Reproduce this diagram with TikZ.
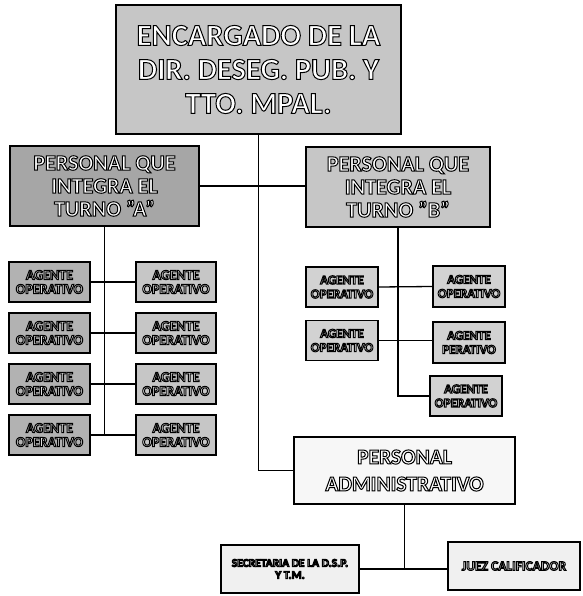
\documentclass[tikz,border=0pt]{standalone}
\usepackage{fontspec}
\setmainfont{Carlito}
\newcommand{\outl}[1]{\special{pdf:literal 0 0 0 RG 1 w 2 Tr}#1\special{pdf:literal 0 Tr}}

\begin{document}
\begin{tikzpicture}[x=1pt,y=-1pt,
  box/.style={draw=black,line width=1.6pt,inner sep=0pt,align=center,text=white},
  link/.style={line width=1.3pt}]
\useasboundingbox (0,0) rectangle (582,596);
\node[box,fill=gray!45,minimum width=285pt,minimum height=129pt,font=\bfseries\fontsize{30.5}{34}\selectfont] (top) at (258.5,69.5)
  {\outl{ENCARGADO DE LA}\\\outl{DIR. DESEG. PUB. Y}\\\outl{TTO. MPAL.}};
\node[box,fill=gray!70,minimum width=189pt,minimum height=80pt,font=\bfseries\fontsize{22}{23}\selectfont] (tA) at (104.5,186)
  {\outl{PERSONAL QUE}\\\outl{INTEGRA EL}\\\outl{TURNO "A"}};
\node[box,fill=gray!45,minimum width=184pt,minimum height=80pt,font=\bfseries\fontsize{22}{23}\selectfont] (tB) at (398,187)
  {\outl{PERSONAL QUE}\\\outl{INTEGRA EL}\\\outl{TURNO "B"}};
% turno A
\node[box,fill=gray!60,minimum width=81pt,minimum height=40pt,font=\bfseries\fontsize{14}{14}\selectfont] (aL1) at (49.5,282) {\outl{AGENTE}\\\outl{OPERATIVO}};
\node[box,fill=gray!60,minimum width=81pt,minimum height=40pt,font=\bfseries\fontsize{14}{14}\selectfont] (aL2) at (49.5,333) {\outl{AGENTE}\\\outl{OPERATIVO}};
\node[box,fill=gray!60,minimum width=81pt,minimum height=40pt,font=\bfseries\fontsize{14}{14}\selectfont] (aL3) at (49.5,384) {\outl{AGENTE}\\\outl{OPERATIVO}};
\node[box,fill=gray!60,minimum width=81pt,minimum height=40pt,font=\bfseries\fontsize{14}{14}\selectfont] (aL4) at (49.5,435) {\outl{AGENTE}\\\outl{OPERATIVO}};
\node[box,fill=gray!45,minimum width=80pt,minimum height=40pt,font=\bfseries\fontsize{14}{14}\selectfont] (aR1) at (176,282) {\outl{AGENTE}\\\outl{OPERATIVO}};
\node[box,fill=gray!45,minimum width=80pt,minimum height=40pt,font=\bfseries\fontsize{14}{14}\selectfont] (aR2) at (176,333) {\outl{AGENTE}\\\outl{OPERATIVO}};
\node[box,fill=gray!45,minimum width=80pt,minimum height=40pt,font=\bfseries\fontsize{14}{14}\selectfont] (aR3) at (176,384) {\outl{AGENTE}\\\outl{OPERATIVO}};
\node[box,fill=gray!45,minimum width=80pt,minimum height=40pt,font=\bfseries\fontsize{14}{14}\selectfont] (aR4) at (176,435) {\outl{AGENTE}\\\outl{OPERATIVO}};
% turno B
\node[box,fill=gray!35,minimum width=72pt,minimum height=40pt,font=\bfseries\fontsize{13}{14}\selectfont] (bL1) at (342,287) {\outl{AGENTE}\\\outl{OPERATIVO}};
\node[box,fill=gray!35,minimum width=72pt,minimum height=40pt,font=\bfseries\fontsize{13}{14}\selectfont] (bL2) at (342,340.5) {\outl{AGENTE}\\\outl{OPERATIVO}};
\node[box,fill=gray!35,minimum width=72pt,minimum height=41pt,font=\bfseries\fontsize{13}{14}\selectfont] (bR1) at (469,286.5) {\outl{AGENTE}\\\outl{OPERATIVO}};
\node[box,fill=gray!35,minimum width=72pt,minimum height=41pt,font=\bfseries\fontsize{13}{14}\selectfont] (bR2) at (469,342.5) {\outl{AGENTE}\\\outl{PERATIVO}};
\node[box,fill=gray!35,minimum width=72pt,minimum height=40pt,font=\bfseries\fontsize{13}{14}\selectfont] (bR3) at (466,396) {\outl{AGENTE}\\\outl{OPERATIVO}};
% administrativo
\node[box,fill=gray!6,minimum width=221pt,minimum height=67pt,font=\bfseries\fontsize{21.5}{27}\selectfont] (adm) at (404.5,470.5)
  {\outl{PERSONAL}\\\outl{ADMINISTRATIVO}};
\node[box,fill=gray!12,minimum width=138pt,minimum height=48pt,font=\bfseries\fontsize{11.5}{12}\selectfont] (sec) at (290,569)
  {\outl{SECRETARIA DE LA D.S.P.}\\\outl{Y T.M.}};
\node[box,fill=gray!12,minimum width=132pt,minimum height=48pt,font=\bfseries\fontsize{13.5}{14}\selectfont] (juez) at (514,566)
  {\outl{JUEZ CALIFICADOR}};
\draw[link] (top.south) |- (adm.west);
\draw[link] (tA.east) -- (tA.east -| tB.west);
\draw[link] (tA.south) -- (tA.south |- aL4.east);
\draw[link] (aL1.east) -- (aR1.west);
\draw[link] (aL2.east) -- (aR2.west);
\draw[link] (aL3.east) -- (aR3.west);
\draw[link] (aL4.east) -- (aR4.west);
\draw[link] (tB.south) |- (bR3.west);
\draw[link] (bL1.east) -- (bR1.west);
\draw[link] (bL2.east) -- (bL2.east -| bR2.west);
\draw[link] (adm.south) -- (adm.south |- sec.east);
\draw[link] (sec.east) -- (sec.east -| juez.west);
\end{tikzpicture}
\end{document}
